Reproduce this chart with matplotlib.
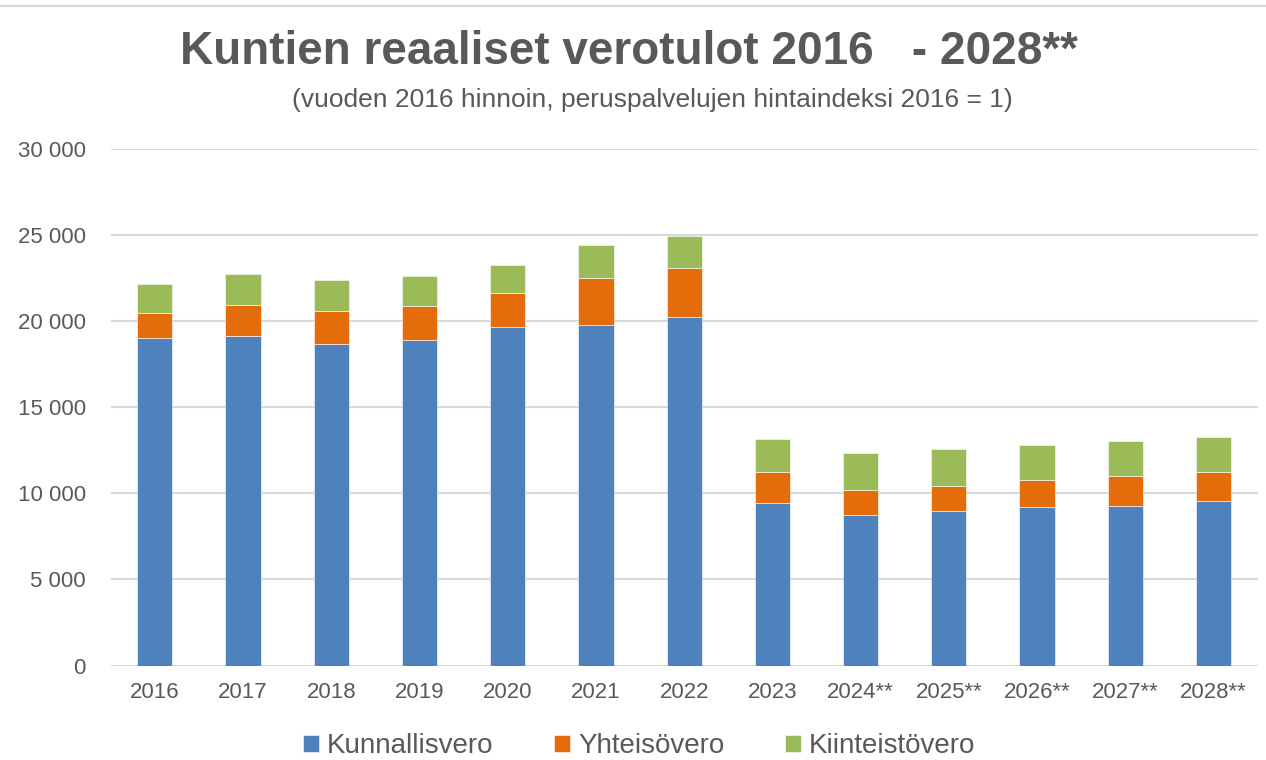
import numpy as np
import matplotlib.pyplot as plt
from matplotlib.lines import Line2D

years = ['2016', '2017', '2018', '2019', '2020', '2021', '2022', '2023',
         '2024**', '2025**', '2026**', '2027**', '2028**']
kunnallisvero = [19000, 19120, 18670, 18890, 19670, 19770, 20240, 9420, 8720, 8950, 9190, 9280, 9540]
yhteisovero = [1450, 1800, 1920, 1970, 1940, 2730, 2830, 1800, 1470, 1470, 1590, 1710, 1680]
kiinteistovero = [1700, 1800, 1780, 1740, 1680, 1920, 1880, 1920, 2130, 2130, 2020, 2030, 2030]

plt.rcParams['font.family'] = ['Liberation Sans', 'DejaVu Sans']
grey = '#595959'

fig = plt.figure(figsize=(12.66, 7.6), dpi=100)
ax = fig.add_axes([0.0874, 0.1243, 0.906, 0.6796])

x = np.arange(len(years))
k = np.array(kunnallisvero)
y = np.array(yhteisovero)
z = np.array(kiinteistovero)
w = 0.4
b1 = ax.bar(x, k, w, color='#4f81bd', edgecolor='white', linewidth=0.4, zorder=3, label='Kunnallisvero')
b2 = ax.bar(x, y, w, bottom=k, color='#e46c0a', edgecolor='white', linewidth=0.4, zorder=3, label='Yhteisövero')
b3 = ax.bar(x, z, w, bottom=k + y, color='#9bbb59', edgecolor='white', linewidth=0.4, zorder=3, label='Kiinteistövero')

ax.set_xlim(-0.5, len(years) - 0.5)
ax.set_ylim(0, 30000)
ax.set_yticks(np.arange(0, 30001, 5000))
ax.set_yticklabels([f'{v:,}'.replace(',', ' ') for v in range(0, 30001, 5000)])
ax.set_xticks(x)
ax.set_xticklabels(years)
ax.grid(axis='y', color='#d9d9d9', linewidth=1.5, zorder=0)
for s in ax.spines.values():
    s.set_visible(False)
ax.tick_params(axis='both', length=0, labelsize=16, labelcolor=grey)
ax.tick_params(axis='y', pad=18)
ax.tick_params(axis='x', pad=12)

fig.text(0.497, 0.931, 'Kuntien reaaliset verotulot 2016   - 2028**', ha='center', va='center',
         fontsize=33, fontweight='bold', color=grey)
fig.text(0.515, 0.868, '(vuoden 2016 hinnoin, peruspalvelujen hintaindeksi 2016 = 1)', ha='center', va='center',
         fontsize=19, color=grey)

fig.add_artist(Line2D([0, 1], [0.992, 0.992], color='#d9d9d9', linewidth=1.5))

fig.legend(handles=[b1, b2, b3], loc='center', bbox_to_anchor=(0.505, 0.018), ncol=3, frameon=False,
           fontsize=20, labelcolor=grey, handlelength=0.55, handleheight=0.55, handletextpad=0.3,
           columnspacing=2.2)

fig.savefig('out.png', dpi=100)
